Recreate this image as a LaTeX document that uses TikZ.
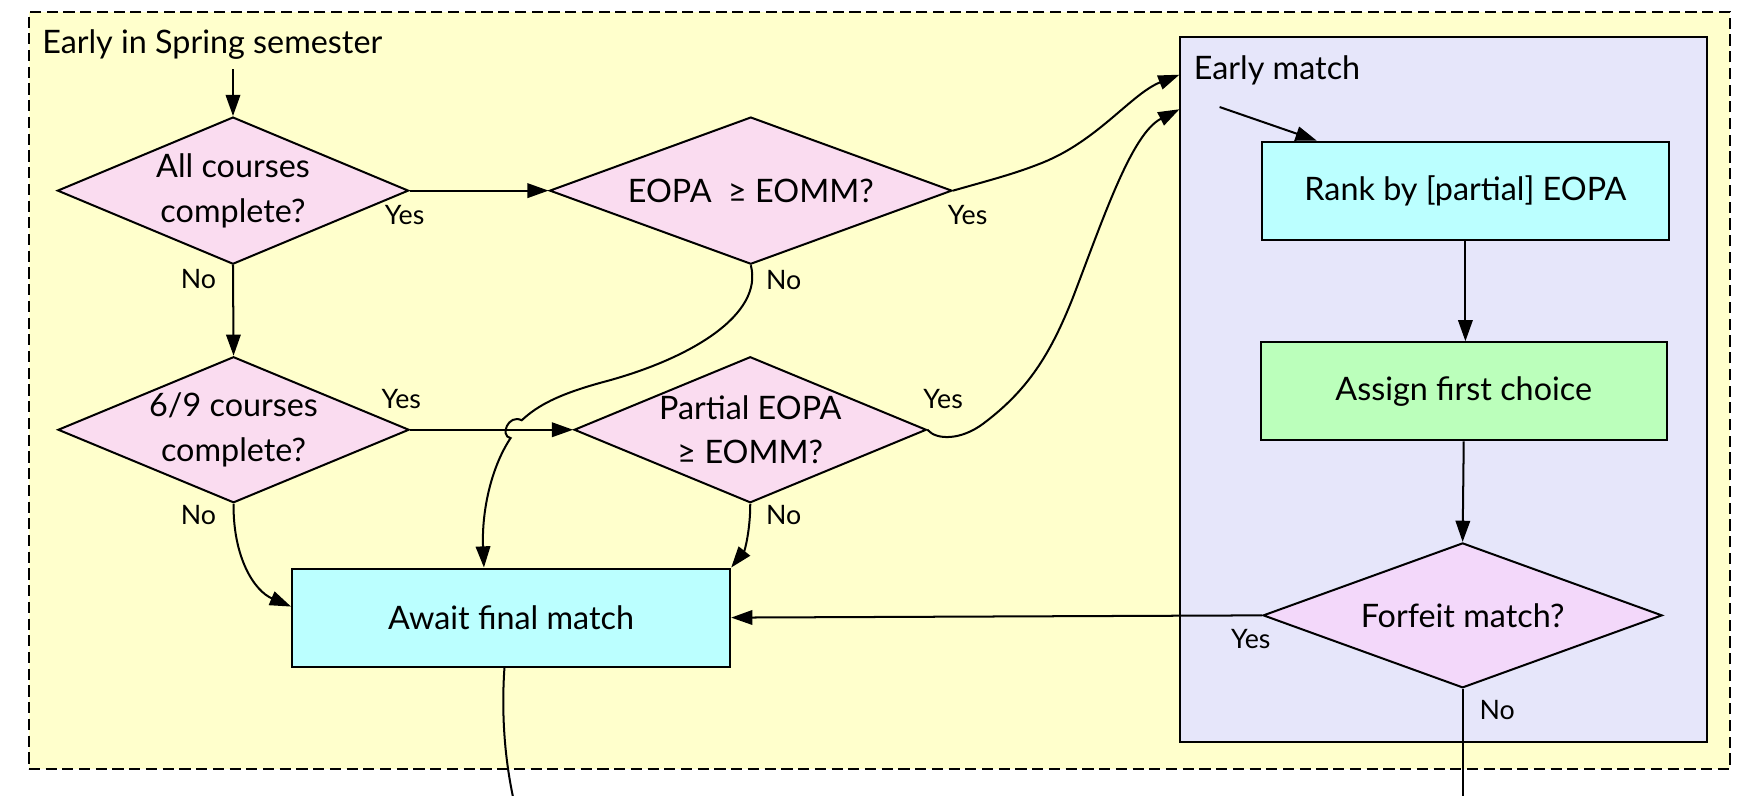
\documentclass[tikz,border=0pt]{standalone}
\usepackage{fontspec}
\setmainfont{Lato}
\usetikzlibrary{shapes.geometric,arrows.meta,calc}
\definecolor{bgyellow}{HTML}{FFFFCC}
\definecolor{lav}{HTML}{E6E6FA}
\definecolor{dpink}{HTML}{FADCF0}
\definecolor{dlilac}{HTML}{F3D8FA}
\definecolor{bcyan}{HTML}{BBFFFF}
\definecolor{bgreen}{HTML}{BBFFBB}
\tikzset{
  every picture/.style={line width=1.8pt},
  dec/.style={diamond, draw, fill=dpink, inner sep=0pt, aspect=2.4, align=center,
    font=\fontsize{29}{40}\selectfont},
  boxnode/.style={rectangle, draw, fill=bcyan, inner sep=0pt,
    font=\fontsize{29}{34}\selectfont},
  lbl/.style={font=\fontsize{24}{28}\selectfont, inner sep=0pt},
  arr/.style={-{Triangle[length=19pt,width=13pt]}},
}
\begin{document}
\begin{tikzpicture}[x=1pt,y=-1pt]
\useasboundingbox (0,0) rectangle (1568,714);
% outer container
\node[draw, dashed, dash pattern=on 10pt off 5pt, fill=bgyellow, anchor=north west,
  minimum width=1526pt, minimum height=679pt, inner sep=0pt] (outer) at (25,10) {};
\node[anchor=west, font=\fontsize{29}{34}\selectfont, inner sep=0pt] (title) at (37,40) {Early in Spring semester};
% early match container
\node[draw, fill=lav, anchor=north west, minimum width=472pt, minimum height=633pt, inner sep=0pt] (em) at (1058,32) {};
\node[anchor=west, font=\fontsize{29}{34}\selectfont, inner sep=0pt] (emtitle) at (1070,63) {Early match};

% decisions
\node[dec, minimum width=315pt, minimum height=132pt] (d1) at (209,171) {All courses\\complete?};
\node[dec, minimum width=361pt, minimum height=132pt] (d2) at (673.5,171) {EOPA\ \ ≥ EOMM?};
\node[dec, minimum width=315pt, minimum height=131pt] (d3) at (209.5,385.5) {6/9 courses\\complete?};
\node[dec, minimum width=316pt, minimum height=131pt] (d4) at (673,385.5) {Partial EOPA\\≥ EOMM?};
\node[dec, fill=dlilac, minimum width=358pt, minimum height=130pt] (ff) at (1312,552) {Forfeit match?};

% boxes
\node[boxnode, minimum width=393pt, minimum height=88pt] (await) at (458.5,554) {Await final match};
\node[boxnode, minimum width=365pt, minimum height=88pt] (rank) at (1314.5,171) {Rank by [partial] EOPA};
\node[boxnode, fill=bgreen, minimum width=364pt, minimum height=88pt] (assign) at (1313,351) {Assign first choice};

% free ends
\coordinate (start) at (209,62);
\coordinate (emin) at (1094,96);
\coordinate (outA) at (460,714);
\coordinate (outB) at (1312,714);

% connectors
\draw[arr] (start) -- (d1.north);
\draw[arr] (d1.east) -- (d2.west);
\draw[arr] (d1.south) -- (d3.north);
\draw[arr] (d3.east) -- (d4.west);
\draw[arr] (d2.east) .. controls (890,161) and (910,156) .. (935,146)
  .. controls (985,126) and (1015,84) .. ($(em.north west)+(0,35)$);
\draw[arr] (d4.east) .. controls (840,395) and (862,395) .. (882,380)
  .. controls (922,350) and (942,318) .. (962,268)
  .. controls (990,195) and (1015,120) .. ($(em.north west)+(0,66)$);
\draw[arr] (d2.south) .. controls (685,282) and (620,322) .. (540,343)
  .. controls (500,354) and (482,364) .. (468,377)
  .. controls (456,371) and (448,391) .. (458,393)
  .. controls (440,420) and (432,460) .. ($(await.north west)+(173,0)$);
\draw[arr] (d3.south) .. controls (209,500) and (228,530) .. ($(await.north west)+(0,35)$);
\draw[arr] (d4.south) .. controls (673,476) and (668,494) .. (await.north east);
\draw[arr] (emin) -- ($(rank.north west)+(50,0)$);
\draw[arr] (rank.south) -- (assign.north -| rank.south);
\draw[arr] (assign.south) -- (ff.north);
\draw[arr] (ff.west) -- (await.east);
\draw (ff.south) -- (outB);
\draw (await.south) ++(-6,0) coordinate (aw) (aw) .. controls (449,650) and (455,690) .. (outA);

% labels
\node[lbl] (y1) at (363,193) {Yes};
\node[lbl] (n1) at (178,250) {No};
\node[lbl] (y2) at (868,193) {Yes};
\node[lbl] (n2) at (703,251) {No};
\node[lbl] (y3) at (360,358) {Yes};
\node[lbl] (n3) at (178,462) {No};
\node[lbl] (y4) at (846,358) {Yes};
\node[lbl] (n4) at (703,462) {No};
\node[lbl] (y5) at (1122,573) {Yes};
\node[lbl] (n5) at (1343,637) {No};
\end{tikzpicture}
\end{document}
